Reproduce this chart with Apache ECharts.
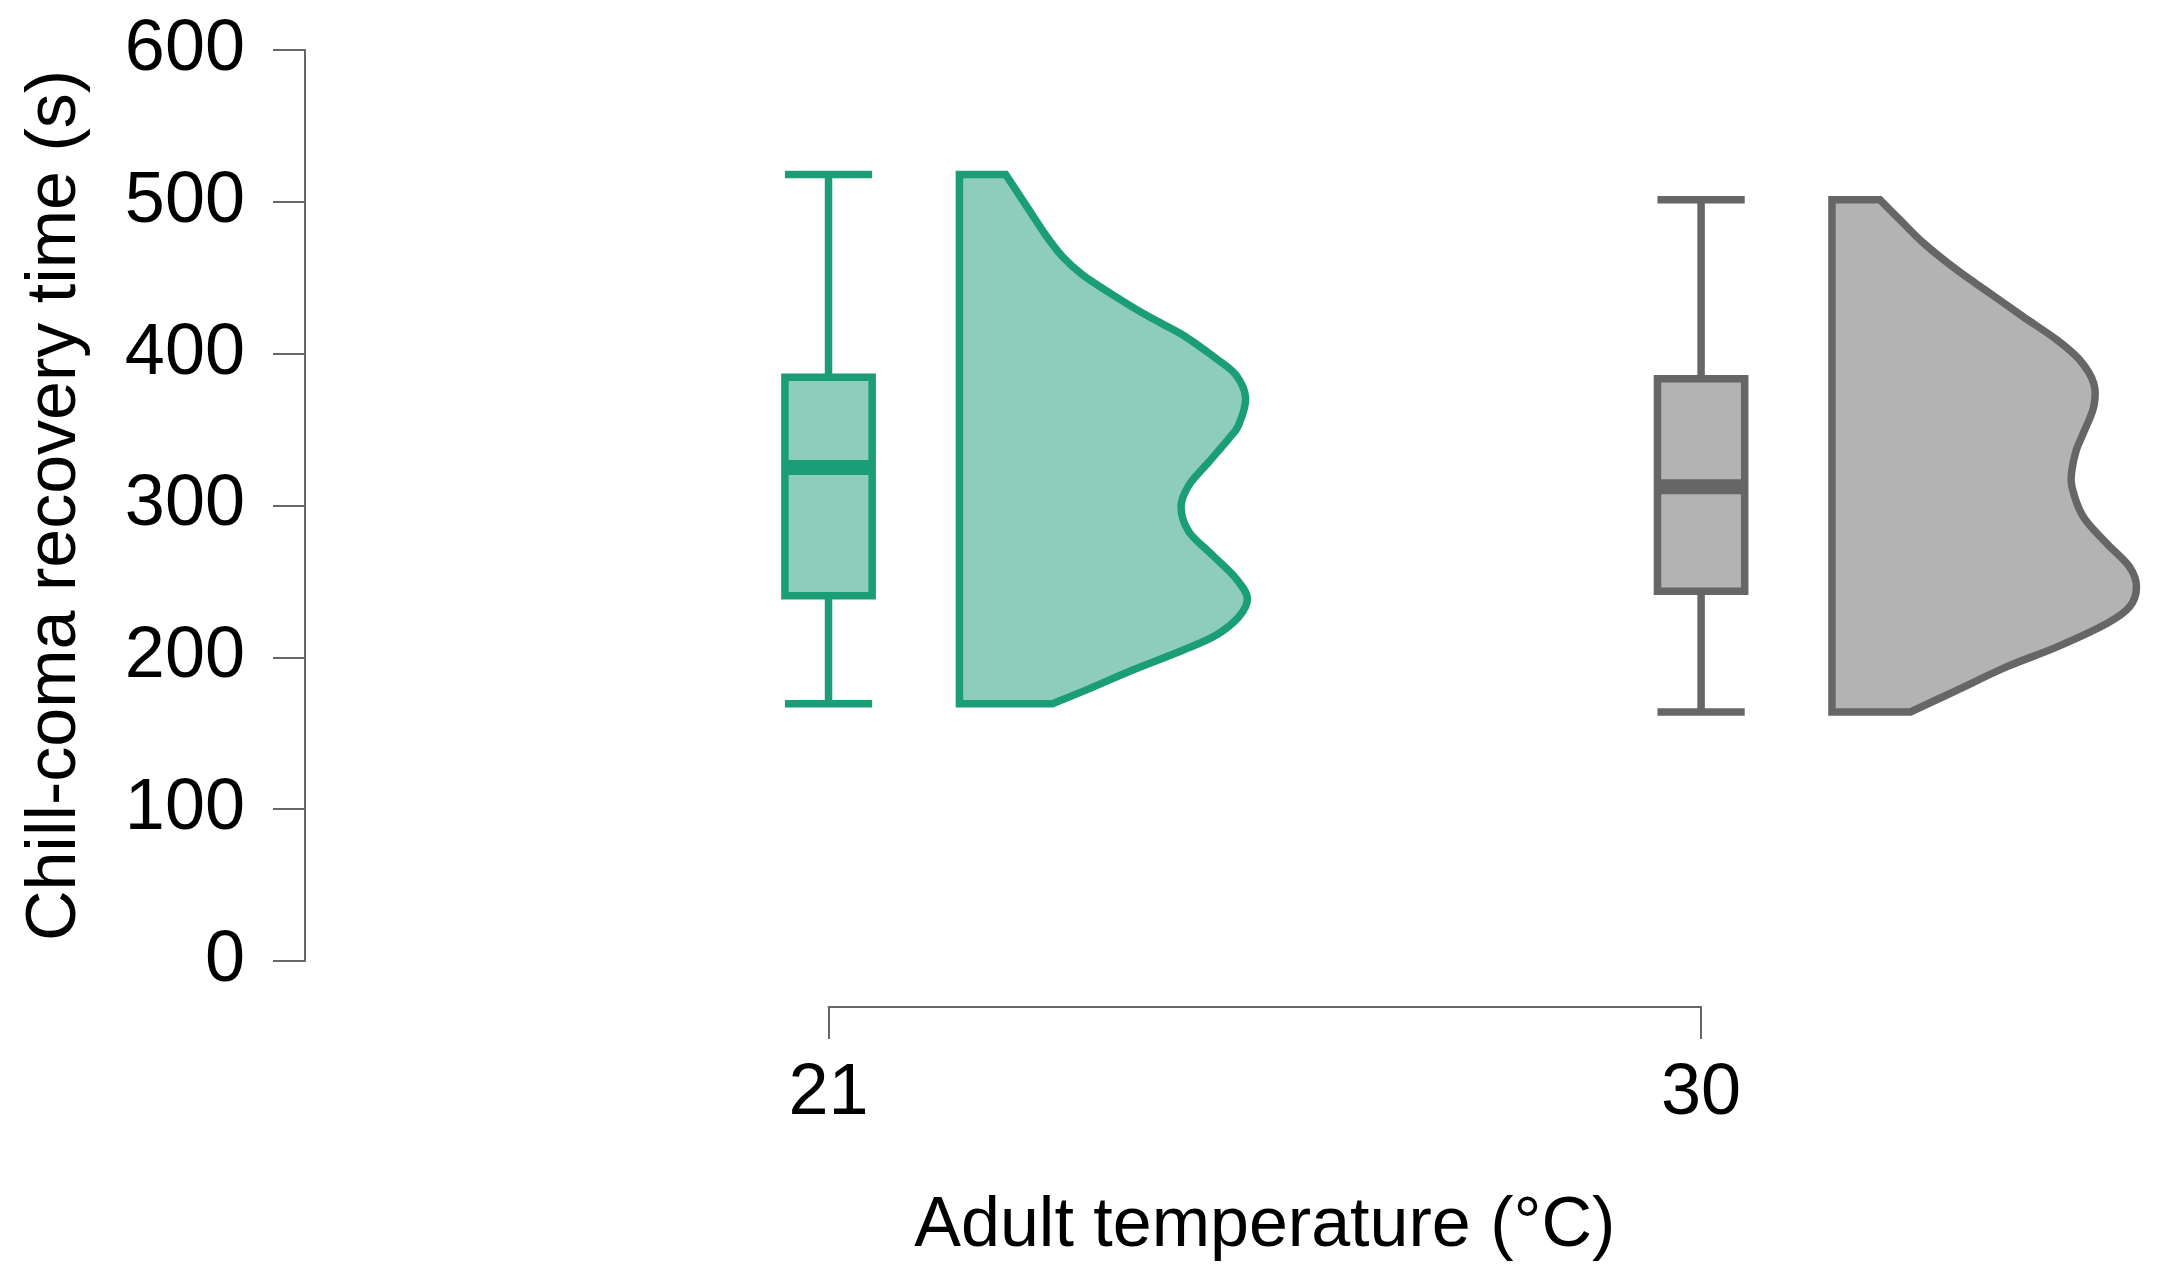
<!DOCTYPE html>
<html>
<head>
<meta charset="utf-8">
<title>Chill-coma recovery time</title>
<script src="https://cdn.jsdelivr.net/npm/echarts@6/dist/echarts.min.js"></script>
<style>
    html, body { margin: 0; padding: 0; background: #fff; }
    #chart { width: 2157px; height: 1273px; }
</style>
</head>
<body>
<div id="chart"></div>
<script>
    // adult temperature groups (x axis)
    const groups = ['21', '30']
    // box plot numbers per group
    const whiskerLow = [169.5, 164]
    const q1 = [240.5, 243.6]
    const median = [325, 312.3]
    const q3 = [384.4, 383.5]
    const whiskerHigh = [518, 501.3]
    // half violins: [recovery time (s), density width in x-axis units], top to bottom
    const violin21 = [
        [518, 0.053], [498, 0.076], [478, 0.099], [464, 0.118], [452, 0.141],
        [437.6, 0.179], [424.4, 0.217], [412.3, 0.256], [396.9, 0.294], [385.9, 0.317],
        [370.6, 0.328], [353, 0.320], [344.2, 0.309], [328.8, 0.286], [313.4, 0.263],
        [299.1, 0.254], [282.7, 0.263], [267.3, 0.290], [251.9, 0.317], [238.8, 0.330],
        [226.6, 0.320], [214.6, 0.294], [204.7, 0.256], [191.5, 0.198], [179.4, 0.149],
        [169.5, 0.107]
    ]
    const violin30 = [
        [501.3, 0.055], [488.1, 0.078], [472.8, 0.105], [455.2, 0.143], [439.8, 0.181],
        [424.4, 0.219], [409, 0.258], [395.8, 0.284], [380.5, 0.300], [365.1, 0.300],
        [347.5, 0.288], [336.5, 0.280], [323.3, 0.275], [312.3, 0.275], [292.6, 0.288],
        [275, 0.315], [259.6, 0.341], [246.4, 0.349], [233.2, 0.341], [222.3, 0.315],
        [206.9, 0.258], [193.7, 0.200], [178.3, 0.143], [164, 0.090]
    ]
    const violins = [violin21, violin30]

    const strokeColors = ['#1b9e77', '#666666']
    const fillColors = ['#8ecdb9', '#b3b3b3']
    const font = '"Liberation Sans", Arial, Helvetica, sans-serif'
    const axisColor = '#666666'

    function renderBox(params, api) {
        const i = params.dataIndex
        const x = api.value(0)
        const hw = 0.05
        const L = api.coord([x - hw, 0])[0]
        const R = api.coord([x + hw, 0])[0]
        const C = api.coord([x, 0])[0]
        const yMin = api.coord([x, api.value(1)])[1]
        const yQ1 = api.coord([x, api.value(2)])[1]
        const yMed = api.coord([x, api.value(3)])[1]
        const yQ3 = api.coord([x, api.value(4)])[1]
        const yMax = api.coord([x, api.value(5)])[1]
        const line = {stroke: strokeColors[i], lineWidth: 7.5, lineCap: 'butt'}
        return {
            type: 'group',
            children: [
                {type: 'line', shape: {x1: C, y1: yQ3, x2: C, y2: yMax}, style: line},
                {type: 'line', shape: {x1: C, y1: yQ1, x2: C, y2: yMin}, style: line},
                {type: 'line', shape: {x1: L, y1: yMax, x2: R, y2: yMax}, style: line},
                {type: 'line', shape: {x1: L, y1: yMin, x2: R, y2: yMin}, style: line},
                {
                    type: 'rect',
                    shape: {x: L, y: yQ3, width: R - L, height: yQ1 - yQ3},
                    style: {fill: fillColors[i], stroke: strokeColors[i], lineWidth: 7.5}
                },
                {type: 'line', shape: {x1: L, y1: yMed, x2: R, y2: yMed},
                    style: {stroke: strokeColors[i], lineWidth: 15}}
            ]
        }
    }

    function renderViolin(params, api) {
        const i = params.dataIndex
        const v = violins[i]
        const x0 = api.value(0) + 0.15
        const pts = v.map(d => api.coord([x0 + d[1], d[0]]))
        const top = api.coord([x0, v[0][0]])
        const bottom = api.coord([x0, v[v.length - 1][0]])
        let d = 'M' + bottom[0] + ',' + bottom[1] + ' L' + top[0] + ',' + top[1] +
            ' L' + pts[0][0] + ',' + pts[0][1]
        // catmull-rom through the outline points
        for (let k = 0; k < pts.length - 1; k++) {
            const p0 = pts[Math.max(k - 1, 0)]
            const p1 = pts[k]
            const p2 = pts[k + 1]
            const p3 = pts[Math.min(k + 2, pts.length - 1)]
            const c1 = [p1[0] + (p2[0] - p0[0]) / 6, p1[1] + (p2[1] - p0[1]) / 6]
            const c2 = [p2[0] - (p3[0] - p1[0]) / 6, p2[1] - (p3[1] - p1[1]) / 6]
            d += ' C' + c1[0] + ',' + c1[1] + ' ' + c2[0] + ',' + c2[1] + ' ' + p2[0] + ',' + p2[1]
        }
        d += ' Z'
        return {
            type: 'path',
            shape: {pathData: d},
            style: {fill: fillColors[i], stroke: strokeColors[i], lineWidth: 7.5, lineJoin: 'miter'}
        }
    }

    const chart = echarts.init(document.getElementById('chart'))
    chart.setOption({
        animation: false,
        backgroundColor: '#ffffff',
        grid: [
            {left: 305, right: 0, top: 50, bottom: 312},
            {left: 828.5, width: 872.6, top: 1000, height: 7}
        ],
        xAxis: [
            {type: 'value', gridIndex: 0, min: -0.6, max: 1.5225, show: false},
            {
                type: 'category', gridIndex: 1, data: groups, boundaryGap: false,
                axisLine: {lineStyle: {color: axisColor, width: 2}},
                axisTick: {show: true, length: 32, interval: 0, lineStyle: {color: axisColor, width: 2}},
                axisLabel: {fontSize: 72, color: '#000', fontFamily: font, margin: 51, interval: 0},
                splitLine: {show: false},
                name: 'Adult temperature (°C)',
                nameLocation: 'middle',
                nameGap: 185,
                nameTextStyle: {fontSize: 70, color: '#000', fontFamily: font}
            }
        ],
        yAxis: [
            {
                type: 'value', gridIndex: 0, min: 0, max: 600, interval: 100,
                axisLine: {show: true, onZero: false, lineStyle: {color: axisColor, width: 2}},
                axisTick: {show: true, length: 32, lineStyle: {color: axisColor, width: 2}},
                axisLabel: {fontSize: 72, color: '#000', fontFamily: font, margin: 60},
                splitLine: {show: false},
                name: 'Chill-coma recovery time (s)',
                nameLocation: 'middle',
                nameGap: 214,
                nameTextStyle: {fontSize: 70, color: '#000', fontFamily: font}
            },
            {type: 'value', gridIndex: 1, show: false}
        ],
        series: [
            {
                type: 'custom',
                xAxisIndex: 0,
                yAxisIndex: 0,
                renderItem: renderBox,
                encode: {x: 0, y: [1, 2, 3, 4, 5]},
                data: groups.map((g, i) => [i, whiskerLow[i], q1[i], median[i], q3[i], whiskerHigh[i]]),
                clip: false
            },
            {
                type: 'custom',
                xAxisIndex: 0,
                yAxisIndex: 0,
                renderItem: renderViolin,
                encode: {x: 0, y: [1, 2]},
                data: groups.map((g, i) => [i, whiskerLow[i], whiskerHigh[i]]),
                clip: false
            }
        ]
    })
</script>
</body>
</html>
